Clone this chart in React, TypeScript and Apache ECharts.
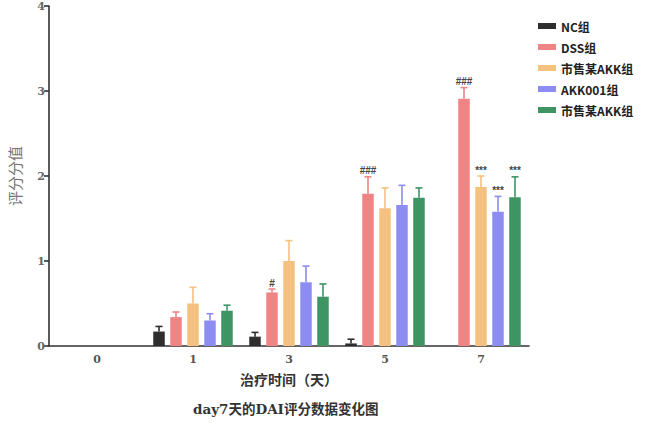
import React, { useEffect, useRef } from "react";
import * as echarts from "echarts";

const categories = ["0", "1", "3", "5", "7"];
const seriesNames = ["NC组", "DSS组", "市售某AKK组", "AKK001组", "市售某AKK组\u200b"];
const seriesColors = ["#2e2e2e", "#ee8484", "#f4c17f", "#8c8cf2", "#3f9464"];

const ncValues = [0, 0.17, 0.11, 0.03, 0];
const ncErrors = [0, 0.06, 0.05, 0.05, 0];
const dssValues = [0, 0.34, 0.63, 1.79, 2.91];
const dssErrors = [0, 0.06, 0.04, 0.2, 0.13];
const akkMarketValues = [0, 0.5, 1.0, 1.62, 1.87];
const akkMarketErrors = [0, 0.19, 0.24, 0.24, 0.13];
const akk001Values = [0, 0.3, 0.75, 1.66, 1.58];
const akk001Errors = [0, 0.08, 0.19, 0.23, 0.18];
const akkMarket2Values = [0, 0.415, 0.58, 1.745, 1.75];
const akkMarket2Errors = [0, 0.065, 0.15, 0.115, 0.24];

const ncMarks = ["", "", "", "", ""];
const dssMarks = ["", "", "#", "###", "###"];
const akkMarketMarks = ["", "", "", "", "***"];
const akk001Marks = ["", "", "", "", "***"];
const akkMarket2Marks = ["", "", "", "", "***"];

const yTicks = [0, 1, 2, 3, 4];

const allValues = [ncValues, dssValues, akkMarketValues, akk001Values, akkMarket2Values];
const allErrors = [ncErrors, dssErrors, akkMarketErrors, akk001Errors, akkMarket2Errors];
const allMarks = [ncMarks, dssMarks, akkMarketMarks, akk001Marks, akkMarket2Marks];

const BAR_W = 11.5;
const GAP_PX = 5.5;

export default function App() {
  const ref = useRef<HTMLDivElement>(null);
  useEffect(() => {
    if (!ref.current) return;
    const chart = echarts.init(ref.current, null, { renderer: "svg" });
    const serif = "'DejaVu Serif', 'Liberation Serif', 'Noto Sans CJK SC', serif";
    const n = seriesNames.length;
    const barSeries: any[] = seriesNames.map((name, i) => ({
      name,
      type: "bar",
      data: allValues[i],
      barWidth: BAR_W,
      barGap: ((GAP_PX / BAR_W) * 100).toFixed(1) + "%",
      itemStyle: { color: seriesColors[i] },
      z: 3,
    }));
    const errSeries: any[] = seriesNames.map((name, i) => ({
      name: "err" + i,
      type: "custom",
      z: 4,
      encode: { x: 0, y: 1 },
      data: allValues[i].map((v, k) => [k, v, allErrors[i][k]]),
      renderItem: (params: any, api: any) => {
        const k = api.value(0);
        const v = api.value(1);
        const e = api.value(2);
        const mark = allMarks[i][params.dataIndex];
        const base = api.coord([k, v]);
        const top = api.coord([k, v + e]);
        const x = base[0] + (i - (n - 1) / 2) * (BAR_W + GAP_PX);
        const children: any[] = [];
        if (e > 0) {
          children.push({
            type: "line",
            shape: { x1: x, y1: base[1], x2: x, y2: top[1] },
            style: { stroke: seriesColors[i], lineWidth: 1.6 },
          });
          children.push({
            type: "line",
            shape: { x1: x - 3.5, y1: top[1], x2: x + 3.5, y2: top[1] },
            style: { stroke: seriesColors[i], lineWidth: 1.6 },
          });
        }
        if (mark) {
          children.push({
            type: "text",
            x,
            y: top[1] - 1,
            style: {
              text: mark,
              fill: "#444",
              font: "bold 10px sans-serif",
              textAlign: "center",
              textVerticalAlign: "bottom",
            },
          });
        }
        return { type: "group", children };
      },
    }));
    chart.setOption({
      animation: false,
      grid: { left: 44, right: 125, top: 6, bottom: 77, containLabel: false },
      legend: {
        data: seriesNames.map((name) => ({ name })),
        orient: "vertical",
        left: 533,
        top: 15,
        icon: "rect",
        itemWidth: 18,
        itemHeight: 6,
        itemGap: 9,
        textStyle: {
          fontFamily: "'Noto Sans CJK SC', sans-serif",
          fontWeight: "bold",
          fontSize: 12,
          color: "#222",
        },
      },
      xAxis: {
        type: "category",
        data: categories,
        name: "治疗时间（天）",
        nameLocation: "middle",
        nameGap: 27,
        nameTextStyle: { fontFamily: serif, fontWeight: "bold", fontSize: 14, color: "#333" },
        axisLine: { lineStyle: { color: "#333", width: 1.6 } },
        axisTick: { alignWithLabel: true, length: 5, lineStyle: { color: "#333", width: 1.6 } },
        axisLabel: { fontFamily: serif, fontWeight: "bold", fontSize: 11, color: "#555", margin: 8 },
      },
      yAxis: {
        type: "value",
        min: yTicks[0],
        max: yTicks[yTicks.length - 1],
        interval: 1,
        name: "评分分值",
        nameLocation: "middle",
        nameGap: 26,
        nameTextStyle: { fontFamily: serif, fontSize: 15, color: "#777" },
        splitLine: { show: false },
        axisLine: { show: true, lineStyle: { color: "#333", width: 1.6 } },
        axisTick: { show: true, length: 5, lineStyle: { color: "#333", width: 1.6 } },
        axisLabel: { fontFamily: serif, fontWeight: "bold", fontSize: 11, color: "#666", margin: 4 },
      },
      graphic: [
        {
          type: "text",
          left: 193,
          top: 402,
          style: {
            text: "day7天的DAI评分数据变化图",
            font: "bold 13.5px " + serif,
            fill: "#333",
          },
        },
      ],
      series: [...barSeries, ...errSeries],
    });
    return () => chart.dispose();
  }, []);
  return (
    <div
      ref={ref}
      style={{ position: "absolute", left: 0, top: 0, width: 654, height: 423 }}
    />
  );
}
